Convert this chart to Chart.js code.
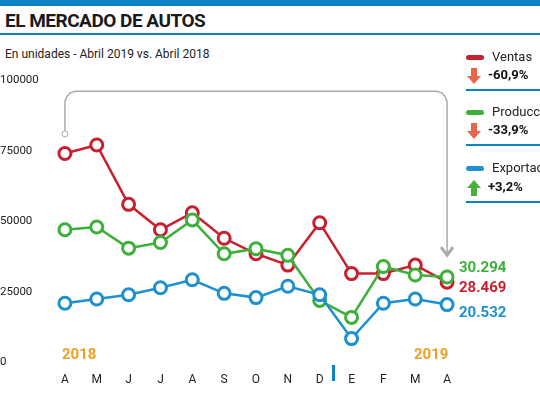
<html>
<head>
<meta charset="utf-8">
<script src="https://cdn.jsdelivr.net/npm/chart.js@4.4.0/dist/chart.umd.min.js"></script>
<style>
  body { margin: 0; width: 540px; height: 405px; position: relative; font-family: Roboto, sans-serif; background: #fff; overflow: hidden; }
  #top { position: absolute; left: 0; top: 0; width: 540px; height: 6px; background: #0a86c8; }
  #title { position: absolute; left: 5px; top: 9px; font-weight: bold; font-size: 19px; letter-spacing: -0.5px; color: #1a1a1a; }
  #rule { position: absolute; left: 0; top: 33px; width: 540px; height: 2px; background: #0a86c8; }
  #sub { position: absolute; left: 5px; top: 47px; font-size: 12px; color: #222; }
  canvas { position: absolute; left: 0; top: 0; }
  .lg { position: absolute; left: 466px; font-size: 13px; color: #222; white-space: nowrap; }
  .dash { display: inline-block; width: 18px; height: 5px; border-radius: 3px; margin-right: 8px; vertical-align: middle; }
  .pct { position: absolute; left: 466px; font-size: 13px; font-weight: bold; color: #111; }
  .pct svg { vertical-align: middle; margin-right: 6px; }
  .ln { position: absolute; left: 466px; width: 80px; height: 2px; background: #0a86c8; }
  .val { position: absolute; left: 459px; font-size: 15px; font-weight: bold; }
  .yr { position: absolute; top: 345px; font-size: 15px; font-weight: bold; color: #f0a020; }
  #tick { position: absolute; left: 332px; top: 365px; width: 3px; height: 16px; background: #0a86c8; }
</style>
</head>
<body>
<div id="top"></div>
<div id="title">EL MERCADO DE AUTOS</div>
<div id="rule"></div>
<div id="sub">En unidades - Abril 2019 vs. Abril 2018</div>
<canvas id="chart" width="540" height="405"></canvas>

<div class="lg" style="top:49px"><span class="dash" style="background:#c8202f"></span>Ventas</div>
<div class="pct" style="top:67px"><svg width="16" height="18"><path d="M5 1h6v8h4l-7 8-7-8h4z" fill="#e8644a"/></svg>-60,9%</div>
<div class="ln" style="top:89px"></div>
<div class="lg" style="top:104px"><span class="dash" style="background:#3db03a"></span>Producción</div>
<div class="pct" style="top:122px"><svg width="16" height="18"><path d="M5 1h6v8h4l-7 8-7-8h4z" fill="#e8644a"/></svg>-33,9%</div>
<div class="ln" style="top:144px"></div>
<div class="lg" style="top:160px"><span class="dash" style="background:#1e90d0"></span>Exportación</div>
<div class="pct" style="top:179px"><svg width="16" height="18"><path d="M5 17h6V9h4L8 1 1 9h4z" fill="#4cae3c"/></svg>+3,2%</div>
<div class="ln" style="top:201px"></div>

<div class="val" style="top:258px;color:#3db03a">30.294</div>
<div class="val" style="top:278px;color:#c8202f">28.469</div>
<div class="val" style="top:303px;color:#1e90d0">20.532</div>
<div class="yr" style="left:62px">2018</div>
<div class="yr" style="left:414px">2019</div>
<div id="tick"></div>

<script>
  var months = ["A", "M", "J", "J", "A", "S", "O", "N", "D", "E", "F", "M", "A"];
  var ventas = [74000, 77000, 56000, 47000, 53000, 44000, 38500, 34500, 49500, 31500, 31500, 34500, 28469];
  var produccion = [47000, 48000, 40500, 42500, 50500, 38500, 40300, 38000, 22000, 16000, 34000, 31000, 30294];
  var exportacion = [21000, 22500, 24000, 26500, 29300, 24500, 23000, 27000, 24000, 8500, 21000, 22500, 20532];
  var yTicks = [0, 25000, 50000, 75000, 100000];

  // gray bracket arrow from first point to last point
  var arrowPlugin = {
    id: 'arrow',
    beforeDatasetsDraw: function (chart) {
      var c = chart.ctx, x = chart.scales.x, y = chart.scales.y;
      var x0 = x.getPixelForValue(0), x1 = x.getPixelForValue(12);
      var top = y.getPixelForValue(96000), r = 12;
      var y0 = y.getPixelForValue(82000), y1 = y.getPixelForValue(38000);
      c.save();
      c.strokeStyle = '#aaa'; c.lineWidth = 1.5;
      c.beginPath();
      c.moveTo(x0, y0);
      c.arcTo(x0, top, x0 + r, top, r);
      c.arcTo(x1, top, x1, top + r, r);
      c.lineTo(x1, y1);
      c.stroke();
      c.beginPath(); c.moveTo(x1 - 6, y1 - 8); c.lineTo(x1, y1); c.lineTo(x1 + 6, y1 - 8); c.lineWidth = 3; c.stroke();
      c.beginPath(); c.arc(x0, y0 + 3, 3, 0, Math.PI * 2); c.fillStyle = '#fff'; c.fill(); c.lineWidth = 1; c.stroke();
      c.restore();
    }
  };

  function ds(data, color) {
    return {
      data: data, borderColor: color, backgroundColor: '#fff', borderWidth: 2.5,
      pointRadius: 6, pointBorderWidth: 3, pointBackgroundColor: '#fff', pointBorderColor: color, tension: 0
    };
  }

  new Chart(document.getElementById('chart'), {
    type: 'line',
    data: {
      labels: months,
      datasets: [ds(exportacion, '#1e90d0'), ds(produccion, '#3db03a'), ds(ventas, '#c8202f')]
    },
    options: {
      responsive: false, animation: false,
      layout: { padding: { left: 0, right: 77, top: 80, bottom: 16 } },
      plugins: { legend: { display: false }, tooltip: { enabled: false } },
      scales: {
        x: {
          offset: true, grid: { display: false }, border: { display: false },
          ticks: { color: '#222', font: { family: 'Roboto', size: 12 }, padding: 2 }
        },
        y: {
          min: 0, max: 100000, afterBuildTicks: function (s) { s.ticks = yTicks.map(function (v) { return { value: v }; }); },
          grid: { display: false }, border: { display: false },
          afterFit: function (s) { s.width = 49; },
          ticks: { crossAlign: 'far', padding: 9, color: '#222', font: { family: 'Roboto', size: 11.5 }, callback: function (v) { return String(v); } }
        }
      }
    },
    plugins: [arrowPlugin]
  });
</script>
</body>
</html>
